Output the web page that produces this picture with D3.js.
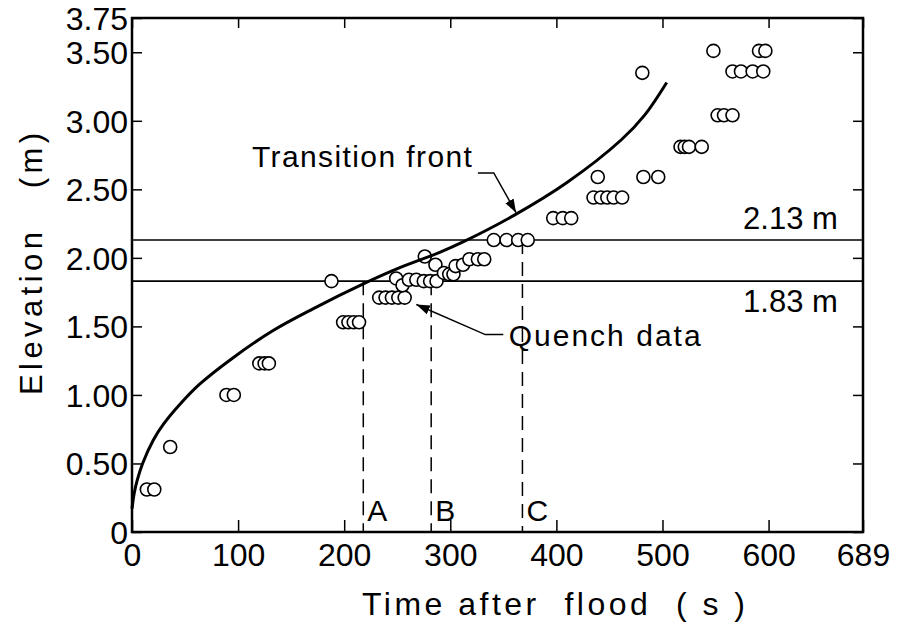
<!DOCTYPE html>
<html>
<head>
<meta charset="utf-8">
<script src="https://cdn.jsdelivr.net/npm/d3@7"></script>
<style>
  body { margin: 0; background: #fff; }
  text { font-family: "Liberation Sans", Arial, sans-serif; fill: #000; }
</style>
</head>
<body>
<div id="chart"></div>
<script>
// Quench data: time after flood (s) and elevation (m)
let quenchTime = [14, 21, 36, 89, 96, 120, 125, 129,
  199, 204, 209, 214, 188,
  233, 239, 245, 251, 257, 249, 255,
  261, 268, 275, 281, 287, 276, 286,
  294, 299, 303, 305, 312, 318, 326, 332,
  341, 353, 364, 373, 397, 406, 414,
  435, 442, 448, 454, 462, 439, 482, 496,
  517, 521, 525, 537, 552, 558, 566,
  481, 566, 574, 585, 595, 548, 591, 597]
let quenchElev = [0.31, 0.31, 0.62, 1.00, 1.00, 1.23, 1.23, 1.23,
  1.53, 1.53, 1.53, 1.53, 1.83,
  1.71, 1.71, 1.71, 1.71, 1.71, 1.85, 1.80,
  1.84, 1.84, 1.83, 1.83, 1.83, 2.01, 1.95,
  1.89, 1.88, 1.88, 1.94, 1.95, 1.99, 1.99, 1.99,
  2.13, 2.13, 2.13, 2.13, 2.29, 2.29, 2.29,
  2.44, 2.44, 2.44, 2.44, 2.44, 2.59, 2.59, 2.59,
  2.81, 2.81, 2.81, 2.81, 3.04, 3.04, 3.04,
  3.35, 3.36, 3.36, 3.36, 3.36, 3.51, 3.51, 3.51]

// Transition front curve
let frontTime = [0, 2, 5, 10, 20, 30, 45, 64, 95, 133, 171, 218, 253, 290, 313, 360, 410, 461, 483, 504]
let frontElev = [0.17, 0.28, 0.38, 0.50, 0.67, 0.79, 0.93, 1.08, 1.27, 1.47, 1.63, 1.81, 1.93, 2.04, 2.12, 2.31, 2.55, 2.86, 3.04, 3.28]

// Reference elevations and times A, B, C
let levels = [2.13, 1.83]
let levelLabels = ["2.13 m", "1.83 m"]
let markNames = ["A", "B", "C"]
let markTimes = [218, 282, 368]
let markTops = [1.83, 1.83, 2.13]

let xTicks = [0, 100, 200, 300, 400, 500, 600, 689]
let yTicks = [0, 0.5, 1.0, 1.5, 2.0, 2.5, 3.0, 3.5, 3.75]

let W = 898, H = 627
let mLeft = 132, mRight = 863, mTop = 18, mBottom = 532

let svg = d3.select("#chart").append("svg")
  .attr("width", W).attr("height", H)

let x = d3.scaleLinear().domain([0, 689]).range([mLeft, mRight])
let y = d3.scaleLinear().domain([0, 3.75]).range([mBottom, mTop])

// axes, ticks point inward
let yAxis = svg.append("g").attr("transform", `translate(${mLeft},0)`)
  .call(d3.axisLeft(y).tickValues(yTicks).tickSizeInner(-10).tickSizeOuter(0).tickPadding(4)
    .tickFormat(d => d === 0 ? "0" : d3.format(".2f")(d)))
yAxis.selectAll("text").style("font-size", "32px").attr("dy", "0.36em")

let xAxis = svg.append("g").attr("transform", `translate(0,${mBottom})`)
  .call(d3.axisBottom(x).tickValues(xTicks).tickSizeInner(-12).tickSizeOuter(0).tickPadding(11))
xAxis.selectAll("text").style("font-size", "32px")

svg.append("g").attr("transform", `translate(0,${mTop})`)
  .call(d3.axisTop(x).tickValues(xTicks).tickSizeInner(-10).tickSizeOuter(0).tickFormat(""))
svg.append("g").attr("transform", `translate(${mRight},0)`)
  .call(d3.axisRight(y).tickValues(yTicks).tickSizeInner(-10).tickSizeOuter(0).tickFormat(""))

svg.selectAll(".domain").remove()
svg.selectAll(".tick line").attr("stroke", "#000").attr("stroke-width", 1.5)

// reference lines
svg.selectAll(".level").data(levels).enter().append("line")
  .attr("x1", mLeft).attr("x2", mRight)
  .attr("y1", d => y(d)).attr("y2", d => y(d))
  .attr("stroke", "#000").attr("stroke-width", 1.6)

svg.selectAll(".levelLabel").data(levels).enter().append("text")
  .attr("x", x(576)).attr("y", (d, i) => i === 0 ? y(d) - 11 : y(d) + 31)
  .style("font-size", "31px")
  .text((d, i) => levelLabels[i])

svg.selectAll(".mark").data(markTimes).enter().append("line")
  .attr("x1", d => x(d)).attr("x2", d => x(d))
  .attr("y1", (d, i) => y(markTops[i])).attr("y2", y(0))
  .attr("stroke", "#000").attr("stroke-width", 1.5)
  .attr("stroke-dasharray", "14,8")

svg.selectAll(".markLabel").data(markTimes).enter().append("text")
  .attr("x", d => x(d) + 4).attr("y", y(0) - 11)
  .style("font-size", "30px")
  .text((d, i) => markNames[i])

// quench data
svg.selectAll(".pt").data(quenchTime).enter().append("circle")
  .attr("cx", d => x(d)).attr("cy", (d, i) => y(quenchElev[i]))
  .attr("r", 6.5)
  .attr("fill", "#fff").attr("stroke", "#000").attr("stroke-width", 1.6)

// transition front
let line = d3.line().x(d => x(d[0])).y(d => y(d[1])).curve(d3.curveCatmullRom.alpha(0.5))
svg.append("path").datum(frontTime.map((t, i) => [t, frontElev[i]]))
  .attr("d", line).attr("fill", "none").attr("stroke", "#000").attr("stroke-width", 3)

// annotations with leader arrows
svg.append("defs").append("marker")
  .attr("id", "arr").attr("viewBox", "0 0 10 10").attr("refX", 10).attr("refY", 5)
  .attr("markerWidth", 9).attr("markerHeight", 9).attr("orient", "auto")
  .append("path").attr("d", "M0,1.5L10,5L0,8.5Z").attr("fill", "#000")

let frontLeader = [[326, 2.62], [341, 2.62], [362, 2.33]]
let quenchLeader = [[350, 1.44], [333, 1.44], [268, 1.66]]
let straight = d3.line().x(d => x(d[0])).y(d => y(d[1]))
;[frontLeader, quenchLeader].forEach(pts => {
  svg.append("path").attr("d", straight(pts)).attr("fill", "none")
    .attr("stroke", "#000").attr("stroke-width", 1.5).attr("marker-end", "url(#arr)")
})

svg.append("text").attr("x", x(113)).attr("y", y(2.66))
  .style("font-size", "30px").attr("textLength", 220).attr("lengthAdjust", "spacing")
  .text("Transition front")
svg.append("text").attr("x", x(355)).attr("y", y(1.36))
  .style("font-size", "30px").attr("textLength", 192).attr("lengthAdjust", "spacing")
  .text("Quench data")

// frame
svg.append("rect").attr("x", mLeft).attr("y", mTop)
  .attr("width", mRight - mLeft).attr("height", mBottom - mTop)
  .attr("fill", "none").attr("stroke", "#000").attr("stroke-width", 2.5)

// axis titles
svg.append("text").attr("x", 362).attr("y", 615)
  .style("font-size", "32px").attr("textLength", 383).attr("lengthAdjust", "spacing")
  .style("white-space", "pre")
  .text("Time after  flood  ( s )")
svg.append("text")
  .attr("transform", "translate(42,395) rotate(-90)")
  .style("font-size", "31px").attr("textLength", 262).attr("lengthAdjust", "spacing")
  .style("white-space", "pre")
  .text("Elevation   (m)")
</script>
</body>
</html>
